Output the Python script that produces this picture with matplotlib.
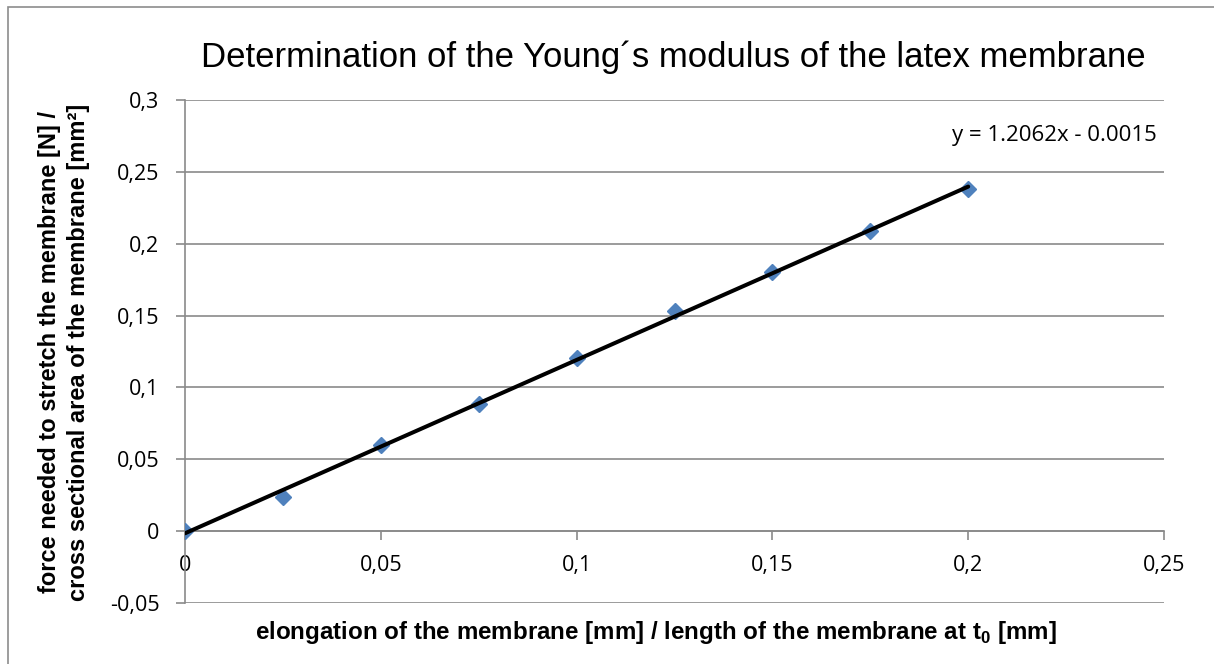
import numpy as np
import matplotlib
matplotlib.use('Agg')
import matplotlib.pyplot as plt
from matplotlib.ticker import FuncFormatter, MultipleLocator
from matplotlib.patches import Rectangle

plt.rcParams['mathtext.fontset'] = 'custom'
plt.rcParams['mathtext.rm'] = 'Liberation Sans'
plt.rcParams['mathtext.bf'] = 'Liberation Sans:bold'

# measured points (strain vs stress)
elongation = [0.0, 0.025, 0.05, 0.075, 0.1, 0.125, 0.15, 0.175, 0.2]
stress = [0.0, 0.0235, 0.060, 0.0887, 0.1207, 0.1529, 0.180, 0.2085, 0.238]

# linear trendline as reported
slope = 1.2062
intercept = -0.0015

title = 'Determination of the Young\u00b4s modulus of the latex membrane'
xlabel = 'elongation of the membrane [mm] / length of the membrane at t$_{\\mathbf{0}}$ [mm]'
ylabel = 'force needed to stretch the membrane [N] /\ncross sectional area of the membrane [mm\u00b2]'

W, H = 1214, 664
fig = plt.figure(figsize=(W / 100, H / 100), dpi=100)
fig.patches.append(Rectangle((8 / W, -0.1), 1.2, 1 - 7 / H + 0.1,
                             transform=fig.transFigure, fill=False,
                             edgecolor='#8c8c8c', linewidth=1.2))

ax = fig.add_axes([185 / W, 1 - 603 / H, (1164 - 185) / W, (603 - 100) / H])

grid_col = '#8a8a8a'
ax.set_xlim(0, 0.25)
ax.set_ylim(-0.05, 0.3)
ax.xaxis.set_major_locator(MultipleLocator(0.05))
ax.yaxis.set_major_locator(MultipleLocator(0.05))

fmt = FuncFormatter(lambda v, p: ('%g' % round(v, 4)).replace('.', ','))
ax.xaxis.set_major_formatter(fmt)
ax.yaxis.set_major_formatter(fmt)

ax.grid(axis='y', color=grid_col, linewidth=1.2)
ax.set_axisbelow(True)
for s in ['top', 'right']:
    ax.spines[s].set_visible(False)
ax.spines['left'].set_position(('data', 0))
ax.spines['bottom'].set_position(('data', 0))
ax.spines['left'].set_color(grid_col)
ax.spines['bottom'].set_color(grid_col)
ax.spines['left'].set_linewidth(1.2)
ax.spines['bottom'].set_linewidth(1.2)
ax.tick_params(axis='both', color=grid_col, width=1.2, length=6.5,
               labelsize=15.5, labelcolor='#000000')
ax.tick_params(axis='y', pad=12)
ax.tick_params(axis='x', pad=11)
for lab in ax.get_xticklabels() + ax.get_yticklabels():
    lab.set_family('Open Sans')

ax.plot(elongation, stress, linestyle='none', marker='D', markersize=8,
        color='#4f81bd', zorder=3)
xs = np.array([elongation[0], elongation[-1]])
ax.plot(xs, slope * xs + intercept, color='black', linewidth=2.9,
        solid_capstyle='round', zorder=4)

ax.text(1157 / W, 1 - 136 / H, 'y = 1.2062x - 0.0015', transform=fig.transFigure,
        ha='right', va='center', fontsize=16, family='Open Sans')

fig.text(673 / W, 1 - 57 / H, title, ha='center', va='center',
         fontsize=25, family='Liberation Sans')
fig.text(656 / W, 1 - 633 / H, xlabel, ha='center', va='center',
         fontsize=17.4, fontweight='bold', family='Liberation Sans')
fig.text(64 / W, 1 - 352 / H, ylabel, ha='center', va='center', rotation=90,
         fontsize=17, fontweight='bold', family='Liberation Sans',
         linespacing=1.35)

fig.savefig('out.png', dpi=100)
